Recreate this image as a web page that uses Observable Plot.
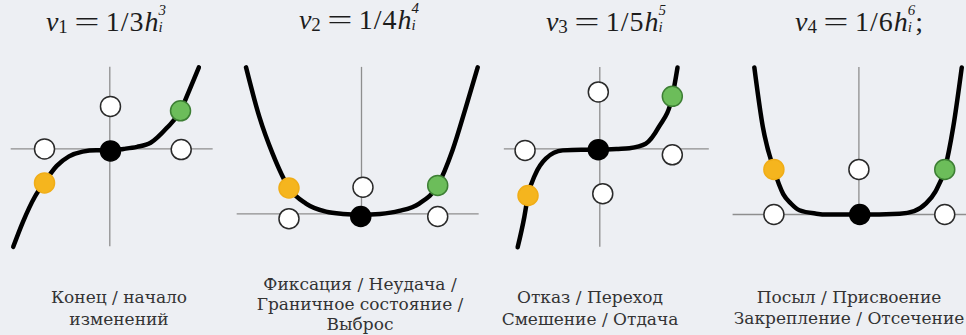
<!DOCTYPE html>
<html><head><meta charset="utf-8">
<script src="https://cdn.jsdelivr.net/npm/d3@7"></script>
<script src="https://cdn.jsdelivr.net/npm/@observablehq/plot@0.6"></script>
<style>
html,body{margin:0;padding:0;background:#edeff3;overflow:hidden}
#root{position:relative;width:966px;height:335px;overflow:hidden;background:#edeff3}
.panel{position:absolute}
.panel svg{max-width:none}
.title{position:absolute;transform:translateX(-50%);white-space:nowrap;font-family:"Liberation Serif",serif;font-size:28px;line-height:30px;color:#1c1c1c}
.title .eq{display:inline-block;width:22px;text-align:center;transform:scaleX(1.6);margin:0 8px 0 8px}
.title .num{letter-spacing:1px}
.title .s1{font-size:19px;vertical-align:-2px;line-height:0}
.title .stk{display:inline-block;font-size:15px;line-height:17px;vertical-align:-1px;font-style:italic}
.cap{position:absolute;transform:translateX(-50%);white-space:nowrap;text-align:center;font-family:"DejaVu Serif",serif;font-size:17px;color:#333}
</style></head><body><div id="root"></div>
<script>
// ---- data (h = horizontal value, v = vertical value) ----
const curveH1 = [-1.42, -1.28, -1.10, -0.96, -0.78, -0.60, -0.40, -0.20, 0, 0.20, 0.40, 0.60, 0.84, 1.04, 1.16, 1.31];
const curveV1 = [-1.44, -1.08, -0.70, -0.49, -0.25, -0.11, -0.04, -0.02, -0.02, 0.0, 0.03, 0.09, 0.31, 0.56, 0.84, 1.20];
const dotH1 = [0.01, -0.96, 1.05, 0.01, -0.96, 1.04];
const dotV1 = [0.625, 0, -0.01, -0.03, -0.50, 0.56];
const dotKind1 = ["open", "open", "open", "center", "start", "end"];
const axisH1 = [-1.45, 1.52];
const axisV1 = [-1.44, 1.20];

const curveH2 = [-1.56, -1.38, -1.20, -0.98, -0.75, -0.48, -0.25, 0, 0.25, 0.51, 0.78, 1.03, 1.23, 1.41, 1.57];
const curveV2 = [1.98, 1.31, 0.81, 0.35, 0.14, 0.03, 0.0, -0.01, 0.0, 0.04, 0.14, 0.385, 0.86, 1.44, 1.98];
const dotH2 = [0.02, -0.98, 1.03, -0.01, -0.98, 1.03];
const dotV2 = [0.36, -0.065, -0.035, -0.035, 0.35, 0.385];
const dotKind2 = ["open", "open", "open", "center", "start", "end"];
const axisH2 = [-1.68, 1.59];
const axisV2 = [0, 1.98];

const curveH3 = [-1.11, -1.02, -0.97, -0.87, -0.73, -0.50, -0.25, 0, 0.25, 0.40, 0.62, 0.80, 0.98, 1.05];
const curveV3 = [-1.33, -0.92, -0.63, -0.34, -0.13, -0.02, -0.01, -0.01, 0.0, 0.01, 0.07, 0.30, 0.71, 1.10];
const dotH3 = [-0.02, -1.01, 0.98, 0.04, -0.02, -0.97, 0.98];
const dotV3 = [0.77, -0.02, -0.08, -0.605, -0.01, -0.63, 0.71];
const dotKind3 = ["open", "open", "open", "open", "center", "start", "end"];
const axisH3 = [-1.29, 1.48];
const axisV3 = [-1.33, 1.10];

const curveH4 = [-1.23, -1.13, -1.00, -0.89, -0.80, -0.70, -0.50, -0.38, 0, 0.48, 0.65, 0.79, 0.90, 1.01, 1.11, 1.21];
const curveV4 = [1.73, 1.03, 0.53, 0.24, 0.13, 0.05, 0.01, 0, 0, 0.01, 0.04, 0.13, 0.27, 0.53, 1.03, 1.73];
const dotH4 = [0.0, -1.0, 1.01, 0.01, -1.0, 1.01];
const dotV4 = [0.53, 0, 0, 0, 0.53, 0.53];
const dotKind4 = ["open", "open", "open", "center", "start", "end"];
const axisH4 = [-1.48, 1.75];
const axisV4 = [0, 1.73];

const titleIndex = ["1", "2", "3", "4"];
const titlePower = ["3", "4", "5", "6"];
const titleEnd = ["", "", "", ";"];
const captions = [
  ["Конец / начало", "изменений"],
  ["Фиксация / Неудача /", "Граничное состояние /", "Выброс"],
  ["Отказ / Переход", "Смешение / Отдача"],
  ["Посыл / Присвоение", "Закрепление / Отсечение"]
];

// ---- layout & style ----
const panelTop = 50, panelH = 210;
const layout = [
  {left: 0,   width: 230, ox: 109.3, oy: 148.4, u: 68, titleX: 106, titleTop: 2, capX: 119, capTop: 287.4, capLH: 21.5},
  {left: 232, width: 252, ox: 361,   oy: 213.4, u: 74, titleX: 359, titleTop: 0, capX: 360, capTop: 273.6, capLH: 20.4},
  {left: 495, width: 225, ox: 599.3, oy: 148.4, u: 74, titleX: 606, titleTop: 2, capX: 590, capTop: 287.4, capLH: 21.5},
  {left: 725, width: 260, ox: 858.4, oy: 214,   u: 85, titleX: 859, titleTop: 2, capX: 849, capTop: 287.4, capLH: 21}
];
const dotFill = {open: "#ffffff", center: "#000000", start: "#f5b51e", end: "#6cbd5a"};
const dotStroke = {open: "#2a2a2a", center: "#000000", start: "#f0ad17", end: "#3d7f34"};

const curves = [[curveH1, curveV1], [curveH2, curveV2], [curveH3, curveV3], [curveH4, curveV4]];
const dots = [[dotH1, dotV1, dotKind1], [dotH2, dotV2, dotKind2], [dotH3, dotV3, dotKind3], [dotH4, dotV4, dotKind4]];
const axes = [[axisH1, axisV1], [axisH2, axisV2], [axisH3, axisV3], [axisH4, axisV4]];

const root = document.getElementById("root");

layout.forEach((L, i) => {
  const curve = curves[i][0].map((h, j) => ({h, v: curves[i][1][j]}));
  const pts = dots[i][0].map((h, j) => ({h, v: dots[i][1][j], kind: dots[i][2][j]}));
  const [aH, aV] = axes[i];
  const chart = Plot.plot({
    width: L.width,
    height: panelH,
    margin: 0,
    x: {domain: [(L.left - L.ox) / L.u, (L.left + L.width - L.ox) / L.u], range: [0, L.width], axis: null},
    y: {domain: [(L.oy - (panelTop + panelH)) / L.u, (L.oy - panelTop) / L.u], range: [panelH, 0], axis: null},
    color: {type: "identity"},
    style: {background: "transparent", maxWidth: "none"},
    marks: [
      Plot.ruleY([0], {x1: aH[0], x2: aH[1], stroke: "#8e8e8e", strokeWidth: 1.3}),
      Plot.ruleX([0], {y1: aV[0], y2: aV[1], stroke: "#8e8e8e", strokeWidth: 1.3}),
      Plot.line(curve, {x: "h", y: "v", curve: "monotone-x", stroke: "#000", strokeWidth: 4.5}),
      Plot.dot(pts, {x: "h", y: "v", r: 10, fill: d => dotFill[d.kind], stroke: d => dotStroke[d.kind], strokeWidth: 1.5})
    ]
  });
  const wrap = document.createElement("div");
  wrap.className = "panel";
  wrap.style.left = L.left + "px";
  wrap.style.top = panelTop + "px";
  wrap.style.width = L.width + "px";
  wrap.style.height = panelH + "px";
  wrap.appendChild(chart);
  root.appendChild(wrap);

  const t = document.createElement("div");
  t.className = "title";
  t.style.left = L.titleX + "px";
  t.style.top = L.titleTop + "px";
  t.innerHTML = `<i>v</i><span class="s1">${titleIndex[i]}</span><span class="eq">=</span><span class="num">1/${titlePower[i]}</span><i>h</i><span class="stk">${titlePower[i]}<br>i</span>${titleEnd[i]}`;
  root.appendChild(t);

  const c = document.createElement("div");
  c.className = "cap";
  c.style.left = L.capX + "px";
  c.style.top = L.capTop + "px";
  c.style.lineHeight = L.capLH + "px";
  c.innerHTML = captions[i].join("<br>");
  root.appendChild(c);
});
</script></body></html>
